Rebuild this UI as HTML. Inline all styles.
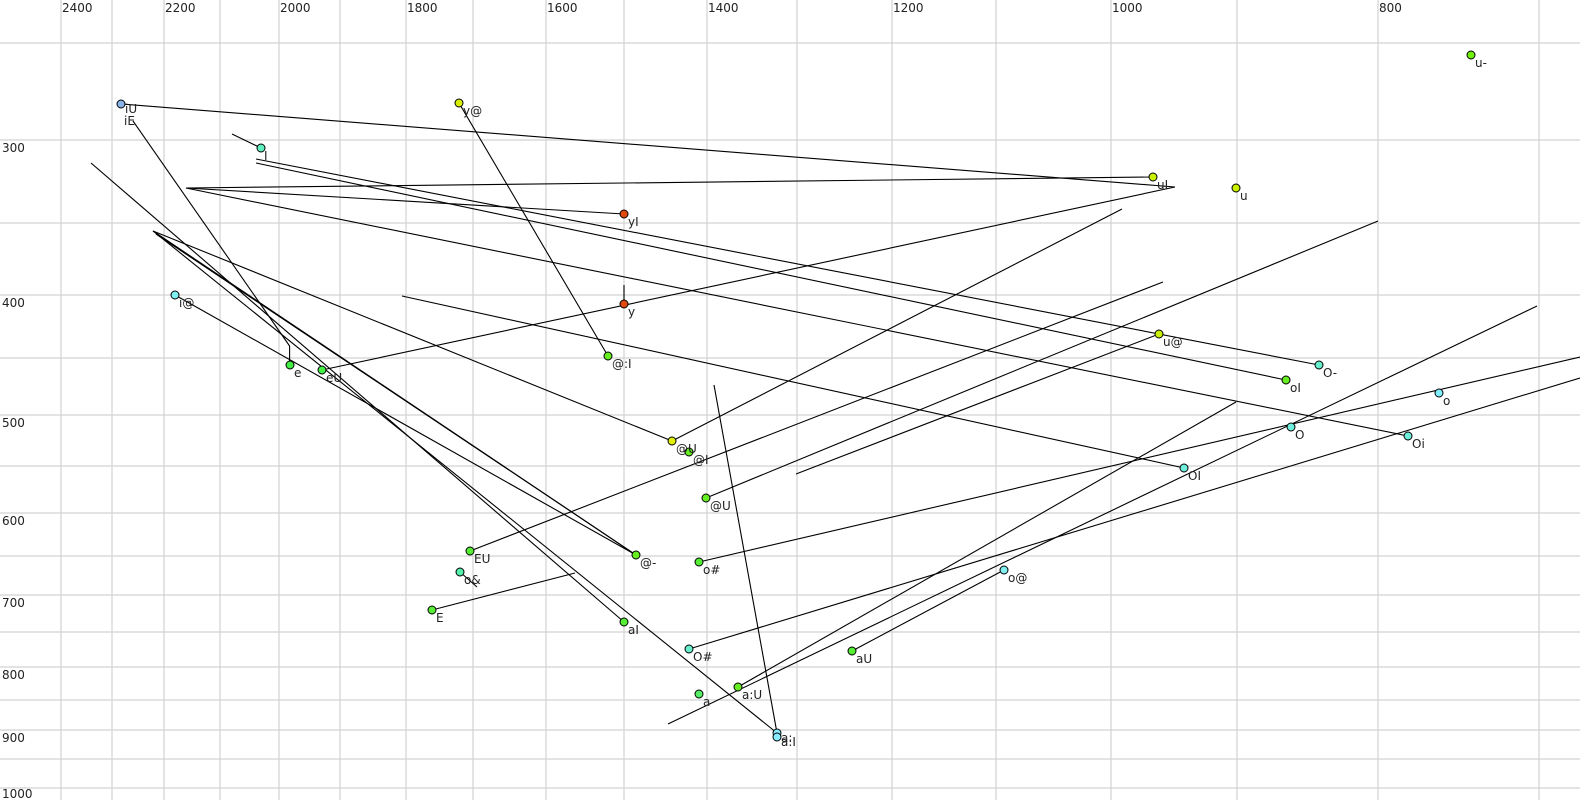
<!DOCTYPE html>
<html><head><meta charset="utf-8"><style>
html,body{margin:0;padding:0;background:#fff;}
svg{display:block;}
text{font-family:"DejaVu Sans","Liberation Sans",sans-serif;font-size:12px;fill:#222;}
</style></head><body>
<svg width="1580" height="800" viewBox="0 0 1580 800" xmlns="http://www.w3.org/2000/svg">
<g stroke="#d2d2d2" stroke-width="1.2">
<line x1="61" y1="0" x2="61" y2="800"/><line x1="112" y1="0" x2="112" y2="800"/><line x1="164" y1="0" x2="164" y2="800"/><line x1="220" y1="0" x2="220" y2="800"/><line x1="279" y1="0" x2="279" y2="800"/><line x1="340" y1="0" x2="340" y2="800"/><line x1="406" y1="0" x2="406" y2="800"/><line x1="473" y1="0" x2="473" y2="800"/><line x1="546" y1="0" x2="546" y2="800"/><line x1="624" y1="0" x2="624" y2="800"/><line x1="707" y1="0" x2="707" y2="800"/><line x1="797" y1="0" x2="797" y2="800"/><line x1="892" y1="0" x2="892" y2="800"/><line x1="996" y1="0" x2="996" y2="800"/><line x1="1111" y1="0" x2="1111" y2="800"/><line x1="1237" y1="0" x2="1237" y2="800"/><line x1="1378" y1="0" x2="1378" y2="800"/><line x1="1539" y1="0" x2="1539" y2="800"/>
<line x1="0" y1="43" x2="1580" y2="43"/><line x1="0" y1="140" x2="1580" y2="140"/><line x1="0" y1="223" x2="1580" y2="223"/><line x1="0" y1="295" x2="1580" y2="295"/><line x1="0" y1="358" x2="1580" y2="358"/><line x1="0" y1="415" x2="1580" y2="415"/><line x1="0" y1="466" x2="1580" y2="466"/><line x1="0" y1="513" x2="1580" y2="513"/><line x1="0" y1="556" x2="1580" y2="556"/><line x1="0" y1="595" x2="1580" y2="595"/><line x1="0" y1="632" x2="1580" y2="632"/><line x1="0" y1="667" x2="1580" y2="667"/><line x1="0" y1="700" x2="1580" y2="700"/><line x1="0" y1="730" x2="1580" y2="730"/><line x1="0" y1="759" x2="1580" y2="759"/><line x1="0" y1="788" x2="1580" y2="788"/>
</g>
<g>
<text x="62" y="12">2400</text><text x="165" y="12">2200</text><text x="280" y="12">2000</text><text x="407" y="12">1800</text><text x="547" y="12">1600</text><text x="708" y="12">1400</text><text x="893" y="12">1200</text><text x="1112" y="12">1000</text><text x="1379" y="12">800</text>
<text x="2" y="152">300</text><text x="2" y="307">400</text><text x="2" y="427">500</text><text x="2" y="525">600</text><text x="2" y="607">700</text><text x="2" y="679">800</text><text x="2" y="742">900</text><text x="2" y="798">1000</text>
</g>
<g stroke="#000" stroke-width="1.1" fill="none">
<line x1="121" y1="104" x2="1175" y2="187"/>
<line x1="133" y1="121" x2="289.6" y2="346"/>
<line x1="289.6" y1="346" x2="289.6" y2="365"/>
<line x1="232" y1="134" x2="261" y2="148"/>
<line x1="256" y1="159" x2="1319" y2="365"/>
<line x1="256" y1="163" x2="1286" y2="380"/>
<line x1="186" y1="188" x2="1153" y2="177"/>
<line x1="186" y1="188" x2="624" y2="214"/>
<line x1="186" y1="188" x2="1408" y2="436"/>
<line x1="322" y1="370" x2="1175" y2="187"/>
<line x1="624" y1="285" x2="624" y2="304"/>
<line x1="402" y1="296" x2="1184" y2="468"/>
<line x1="459" y1="103" x2="608" y2="356"/>
<line x1="91" y1="163" x2="624" y2="622"/>
<line x1="153" y1="231" x2="672" y2="441"/>
<line x1="153" y1="231" x2="636" y2="555"/>
<line x1="153" y1="231" x2="777" y2="733"/>
<line x1="175" y1="295" x2="636" y2="555"/>
<line x1="156" y1="234" x2="636" y2="555"/>
<line x1="672" y1="441" x2="1122" y2="209"/>
<line x1="470" y1="551" x2="1163" y2="282"/>
<line x1="706" y1="498" x2="1378" y2="221"/>
<line x1="796" y1="474" x2="1159" y2="334"/>
<line x1="714" y1="385" x2="777" y2="733"/>
<line x1="460" y1="572" x2="477" y2="587"/>
<line x1="432" y1="610" x2="575" y2="573"/>
<line x1="699" y1="562" x2="1580" y2="357"/>
<line x1="689" y1="649" x2="1580" y2="378"/>
<line x1="668" y1="724" x2="1537" y2="306"/>
<line x1="738" y1="687" x2="1236" y2="402"/>
<line x1="852" y1="651" x2="1004" y2="570"/>
</g>
<g stroke="#000" stroke-width="1">
<circle cx="121" cy="104" r="4" fill="#8ab4e8"/>
<circle cx="459" cy="103" r="4" fill="#d8f000"/>
<circle cx="261" cy="148" r="4" fill="#60f0c0"/>
<circle cx="1153" cy="177" r="4" fill="#c8f000"/>
<circle cx="1236" cy="188" r="4" fill="#c8f000"/>
<circle cx="1471" cy="55" r="4" fill="#70f000"/>
<circle cx="624" cy="214" r="4" fill="#e04a10"/>
<circle cx="624" cy="304" r="4" fill="#e04a10"/>
<circle cx="175" cy="295" r="4" fill="#80f0f0"/>
<circle cx="290" cy="365" r="4" fill="#44ee44"/>
<circle cx="322" cy="370" r="4" fill="#44ee44"/>
<circle cx="608" cy="356" r="4" fill="#66ee22"/>
<circle cx="1159" cy="334" r="4" fill="#c8f000"/>
<circle cx="1319" cy="365" r="4" fill="#66eecc"/>
<circle cx="1286" cy="380" r="4" fill="#66ee22"/>
<circle cx="1439" cy="393" r="4" fill="#80eeff"/>
<circle cx="1291" cy="427" r="4" fill="#70eedd"/>
<circle cx="1408" cy="436" r="4" fill="#70eedd"/>
<circle cx="672" cy="441" r="4" fill="#e0f000"/>
<circle cx="689" cy="452" r="4" fill="#66ee22"/>
<circle cx="1184" cy="468" r="4" fill="#70eedd"/>
<circle cx="706" cy="498" r="4" fill="#66ee22"/>
<circle cx="470" cy="551" r="4" fill="#55ee33"/>
<circle cx="636" cy="555" r="4" fill="#66ee22"/>
<circle cx="699" cy="562" r="4" fill="#55ee33"/>
<circle cx="460" cy="572" r="4" fill="#55eeaa"/>
<circle cx="1004" cy="570" r="4" fill="#80eeee"/>
<circle cx="432" cy="610" r="4" fill="#55ee33"/>
<circle cx="624" cy="622" r="4" fill="#55ee33"/>
<circle cx="689" cy="649" r="4" fill="#66eecc"/>
<circle cx="852" cy="651" r="4" fill="#55ee33"/>
<circle cx="738" cy="687" r="4" fill="#66ee22"/>
<circle cx="699" cy="694" r="4" fill="#55ee66"/>
<circle cx="777" cy="733" r="4" fill="#88eeff"/>
<circle cx="777" cy="737" r="4" fill="#88eeff"/>
</g>
<g>
<text x="125" y="113">iU</text><text x="124" y="125">iE</text>
<text x="463" y="115">y@</text>
<text x="264" y="160">I</text>
<text x="1157" y="189">uI</text>
<text x="1240" y="200">u</text>
<text x="1475" y="67">u-</text>
<text x="628" y="226">yI</text>
<text x="628" y="316">y</text>
<text x="179" y="307">i@</text>
<text x="294" y="377">e</text>
<text x="326" y="382">eU</text>
<text x="612" y="368">@:I</text>
<text x="1163" y="346">u@</text>
<text x="1323" y="377">O-</text>
<text x="1290" y="392">oI</text>
<text x="1443" y="405">o</text>
<text x="1295" y="439">O</text>
<text x="1412" y="448">Oi</text>
<text x="676" y="453">@U</text>
<text x="693" y="464">@I</text>
<text x="1188" y="480">OI</text>
<text x="710" y="510">@U</text>
<text x="474" y="563">EU</text>
<text x="640" y="567">@-</text>
<text x="703" y="574">o#</text>
<text x="464" y="584">o&amp;</text>
<text x="1008" y="582">o@</text>
<text x="436" y="622">E</text>
<text x="628" y="634">aI</text>
<text x="693" y="661">O#</text>
<text x="856" y="663">aU</text>
<text x="742" y="699">a:U</text>
<text x="703" y="706">a</text>
<text x="781" y="742">a:</text>
<text x="781" y="746">a:I</text>
</g>
</svg>
</body></html>
